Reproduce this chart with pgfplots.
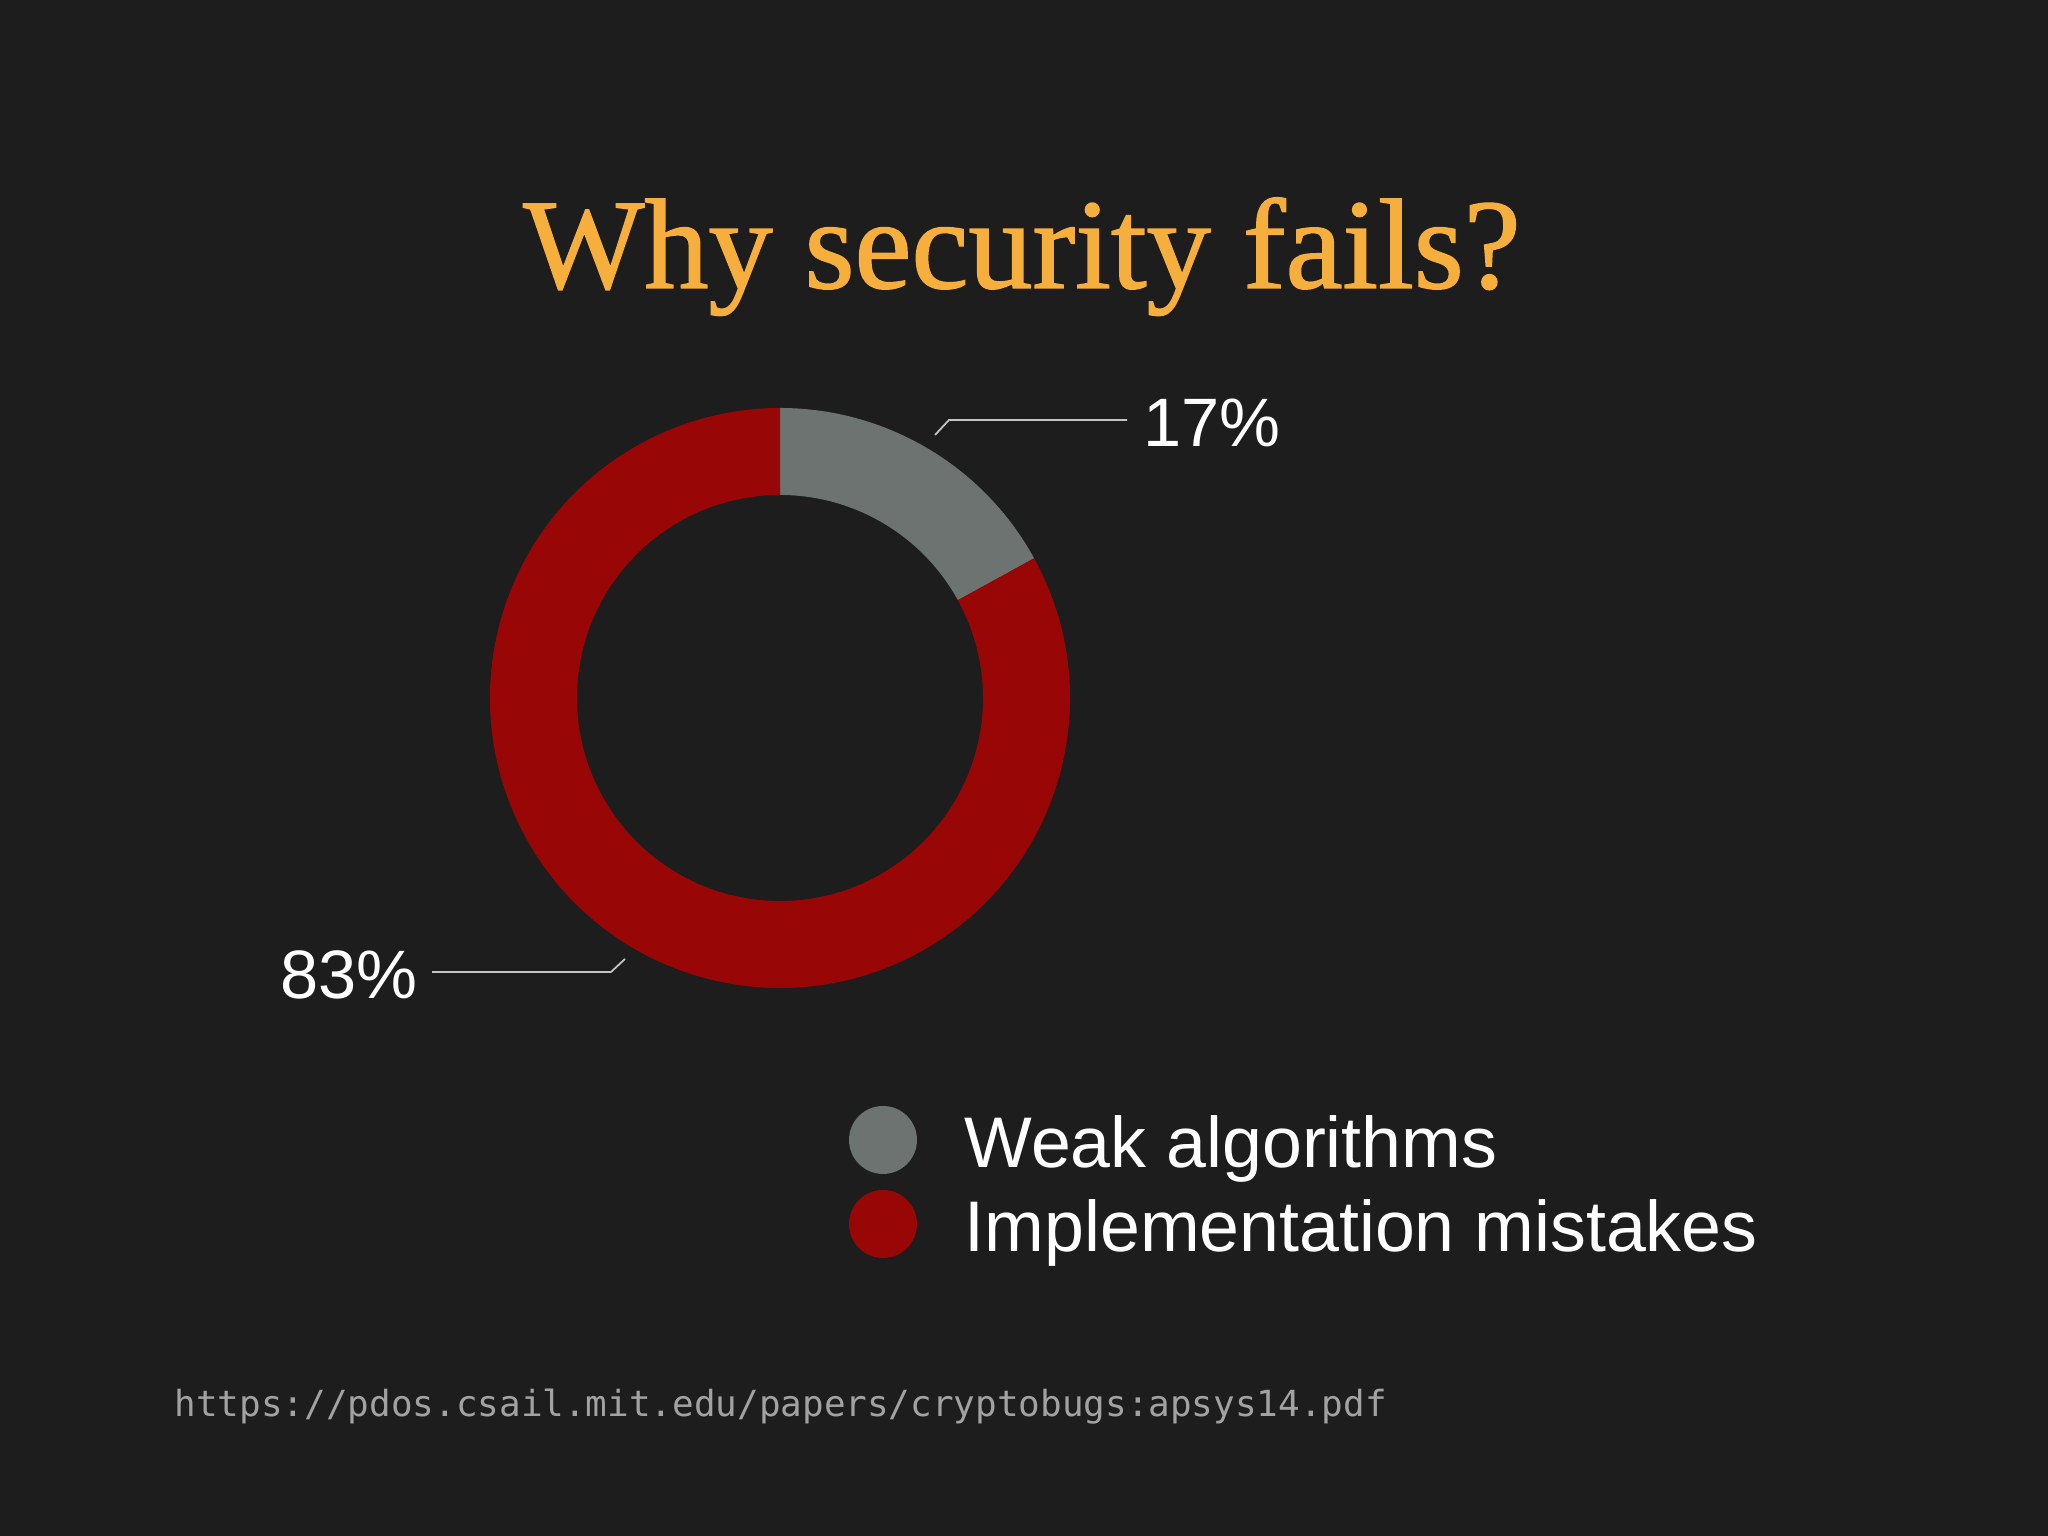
\documentclass[border=0pt]{standalone}
\usepackage{pgfplots}
\pgfplotsset{compat=1.18}
\usepackage{pgfplotstable}
\usepackage{fontspec}
\setmainfont{Liberation Sans}
\newfontfamily\titlefont[FakeBold=1.2]{Liberation Serif}
\newfontfamily\urlfont{DejaVu Sans Mono}
\definecolor{bg}{HTML}{1D1D1E}
\definecolor{weak}{HTML}{6C7371}
\definecolor{impl}{HTML}{990606}
\definecolor{ttl}{HTML}{F6AE3C}
\definecolor{leader}{HTML}{C4C4C4}
\definecolor{urlc}{HTML}{A2A2A2}

\pgfplotstableread{
label value
Weak 17
Impl 83
}\slices
\pgfplotstablegetelem{0}{value}\of\slices
\pgfmathsetmacro{\aone}{90-3.6*\pgfplotsretval}
\pgfmathsetmacro{\atwo}{90-360}

\begin{document}
\begin{tikzpicture}
\fill[bg] (0,0) rectangle (20.48cm,15.36cm);
\begin{axis}[
  at={(0,0)}, anchor=south west,
  scale only axis, width=20.48cm, height=15.36cm,
  xmin=0, xmax=2048, ymin=0, ymax=1536,
  hide axis, clip=false]
% donut (centre 780,838 ; outer 290 ; inner 203, in px units)
\fill[weak] (axis cs:780,838) ++(90:2.90cm) arc[start angle=90, end angle=\aone, radius=2.90cm]
   -- ++(\aone:-0.87cm) arc[start angle=\aone, end angle=90, radius=2.03cm] -- cycle;
\fill[impl] (axis cs:780,838) ++(\aone:2.90cm) arc[start angle=\aone, end angle=\atwo, radius=2.90cm]
   -- ++(\atwo:-0.87cm) arc[start angle=\atwo, end angle=\aone, radius=2.03cm] -- cycle;
% leaders
\draw[leader, line width=0.5pt] (axis cs:935,1101) -- (axis cs:949,1116) -- (axis cs:1127,1116);
\draw[leader, line width=0.5pt] (axis cs:625,577) -- (axis cs:611,564) -- (axis cs:432,564);
% percentage labels
\node[anchor=base west, inner sep=0, text=white, font=\fontsize{19.5pt}{22pt}\selectfont] at (axis cs:1143,1089) {17\%};
\node[anchor=base west, inner sep=0, text=white, font=\fontsize{19.5pt}{22pt}\selectfont] at (axis cs:280,537) {83\%};
% title
\node[anchor=base, inner sep=0, text=ttl, font=\titlefont\fontsize{36.5pt}{40pt}\selectfont] at (axis cs:1022,1248) {Why security fails?};
% legend
\fill[weak] (axis cs:883,396) circle[radius=0.34cm];
\fill[impl] (axis cs:883,312) circle[radius=0.34cm];
\node[anchor=base west, inner sep=0, text=white, font=\fontsize{20.4pt}{24pt}\selectfont] at (axis cs:964,368) {Weak algorithms};
\node[anchor=base west, inner sep=0, text=white, font=\fontsize{20.4pt}{24pt}\selectfont] at (axis cs:964,284) {Implementation mistakes};
% source
\node[anchor=base west, inner sep=0, text=urlc, font=\urlfont\fontsize{10.23pt}{13pt}\selectfont] at (axis cs:174,119) {https://pdos.csail.mit.edu/papers/cryptobugs:apsys14.pdf};
\end{axis}
\end{tikzpicture}
\end{document}
